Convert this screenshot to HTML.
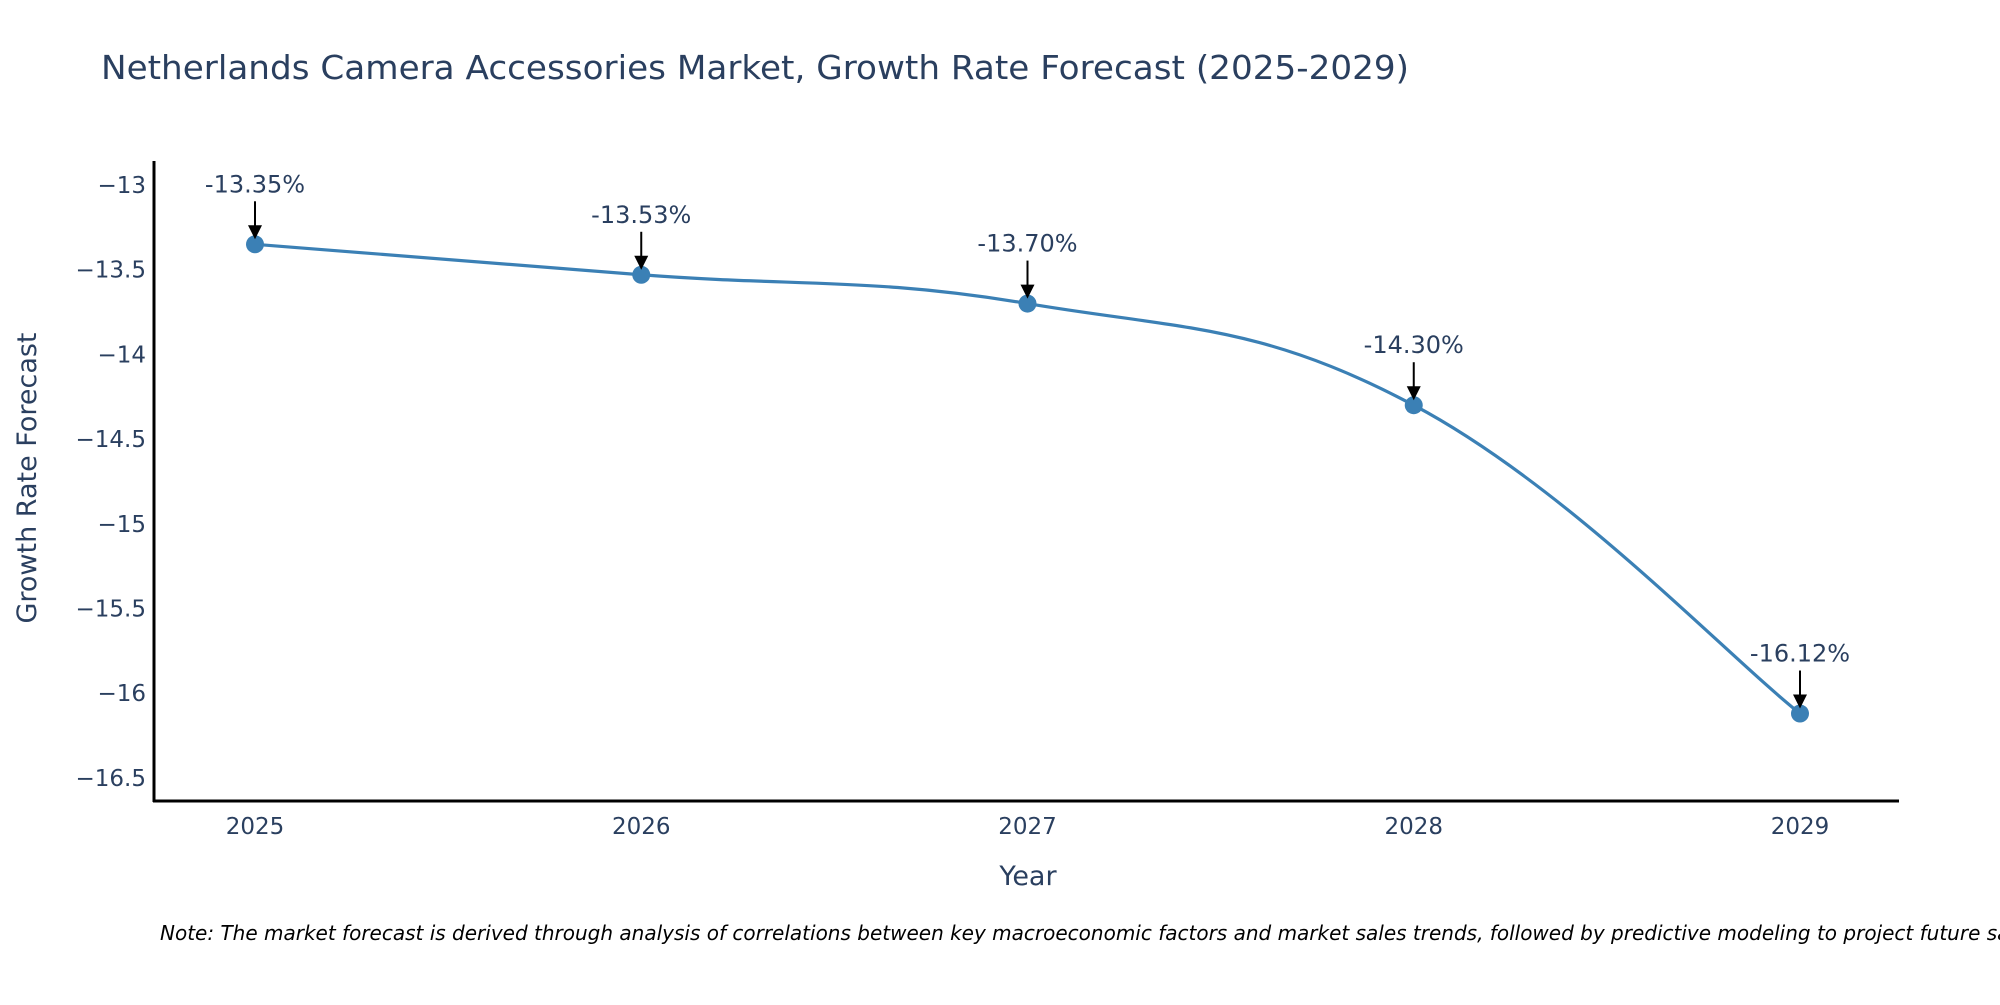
<!DOCTYPE html>
<html><head><meta charset="utf-8"><style>
html,body{margin:0;padding:0;background:#fff;}
svg text{font-family:"DejaVu Sans","Liberation Sans",sans-serif;}
</style></head><body>
<svg id="chart" width="2000" height="1000" viewBox="0 0 2000 1000">
<rect x="0" y="0" width="2000" height="1000" fill="#fff"/>
<text x="101" y="79" font-size="33" fill="#2a3f5f" textLength="1308" lengthAdjust="spacingAndGlyphs">Netherlands Camera Accessories Market, Growth Rate Forecast (2025-2029)</text>
<g id="yticks"></g><g id="xticks"></g>
<path id="series-line" fill="none" stroke="#3b80b5" stroke-width="3.2"/>
<g id="marks"></g>
<line x1="154" y1="161" x2="154" y2="802" stroke="#000" stroke-width="3"/>
<line x1="153" y1="801" x2="1899" y2="801" stroke="#000" stroke-width="3"/>
<text x="1028" y="885" font-size="27" fill="#2a3f5f" text-anchor="middle">Year</text>
<text transform="translate(36,478) rotate(-90)" font-size="27" fill="#2a3f5f" text-anchor="middle">Growth Rate Forecast</text>
<text x="160" y="940" font-size="20" font-style="italic" fill="#000">Note: The market forecast is derived through analysis of correlations between key macroeconomic factors and market sales trends, followed by predictive modeling to project future sales.</text>
</svg>
<script>
const years = [2025, 2026, 2027, 2028, 2029];
const growth = [-13.35, -13.53, -13.70, -14.30, -16.12];
const labels = ["-13.35%", "-13.53%", "-13.70%", "-14.30%", "-16.12%"];
const yTicks = [-13, -13.5, -14, -14.5, -15, -15.5, -16, -16.5];
const NS = "http://www.w3.org/2000/svg";
function xs(v){ return 255 + (v - 2025) * 386.25; }
function ys(v){ return 185 + (-13 - v) * 169.4; }
function mk(tag, attrs, parent){ const e=document.createElementNS(NS,tag); for(const k in attrs) e.setAttribute(k,attrs[k]); parent.appendChild(e); return e; }
const yt=document.getElementById('yticks');
yTicks.forEach(t=>{
  const e=mk('text',{x:146,y:ys(t)+8,'font-size':23,fill:'#2a3f5f','text-anchor':'end'},yt);
  
  
  e.textContent=(t<0?'\u2212':'')+Math.abs(t);
});
const xt=document.getElementById('xticks');
years.forEach(y=>{
  const e=mk('text',{x:xs(y),y:834,'font-size':23,fill:'#2a3f5f','text-anchor':'middle'},xt);
  
  
  e.textContent=y;
});
const P=years.map((y,i)=>[xs(y),ys(growth[i])]);
let d='M'+P[0][0]+','+P[0][1];
for(let i=0;i<P.length-1;i++){
  const p0=P[Math.max(i-1,0)],p1=P[i],p2=P[i+1],p3=P[Math.min(i+2,P.length-1)];
  const t=0.2;
  const c1=[p1[0]+(p2[0]-p0[0])*t,p1[1]+(p2[1]-p0[1])*t];
  const c2=[p2[0]-(p3[0]-p1[0])*t,p2[1]-(p3[1]-p1[1])*t];
  d+=' C'+c1[0]+','+c1[1]+' '+c2[0]+','+c2[1]+' '+p2[0]+','+p2[1];
}
document.getElementById('series-line').setAttribute('d',d);
const g=document.getElementById('marks');
P.forEach((p,i)=>{
  const c=mk('circle',{cx:p[0],cy:p[1],r:9,fill:'#3b80b5'},g);
  
  
  const l=mk('line',{x1:p[0],y1:p[1]-43,x2:p[0],y2:p[1]-18,stroke:'#000','stroke-width':2},g);
  
  
  const h=mk('polygon',{points:(p[0]-7)+','+(p[1]-19)+' '+(p[0]+7)+','+(p[1]-19)+' '+p[0]+','+(p[1]-5)},g);
  
  
  const tx=mk('text',{x:p[0],y:p[1]-52,'font-size':24,fill:'#2a3f5f','text-anchor':'middle'},g);
  
  
  tx.textContent=labels[i];
});
</script>
</body></html>
